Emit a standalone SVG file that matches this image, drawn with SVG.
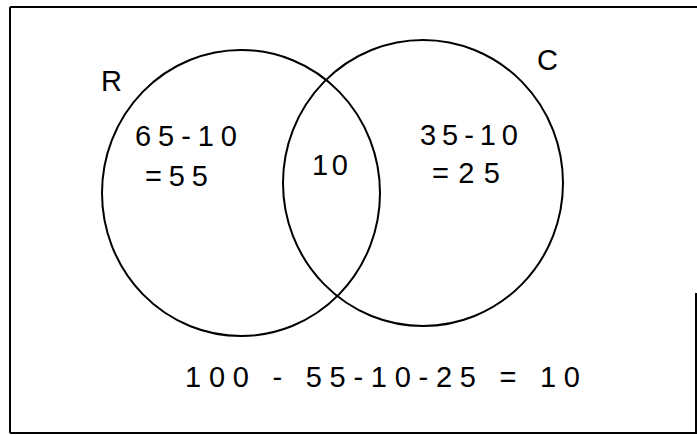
<svg xmlns="http://www.w3.org/2000/svg" width="697" height="435" viewBox="0 0 697 435">
<style>
.line{fill:none;stroke:#000;stroke-width:2}
.t{font-family:"Liberation Sans","DejaVu Sans",sans-serif;font-size:29px;fill:#000}
</style>
<rect width="697" height="435" fill="#fff"/>
<g id="frame" class="line">
<path d="M10,7 H697 M10,7 V433 M10,433 H697 M696,293 V433"/>
</g>
<g id="setR">
<ellipse class="line" cx="241" cy="193" rx="139" ry="143"/>
<text class="t" x="101" y="91" font-size="32">R</text>
<text class="t" x="135" y="146" textLength="102" lengthAdjust="spacing">65-10</text>
<text class="t" x="145" y="186" textLength="63" lengthAdjust="spacing">=55</text>
</g>
<g id="setC">
<ellipse class="line" cx="423" cy="183" rx="140" ry="143"/>
<text class="t" x="537" y="70" font-size="31">C</text>
<text class="t" x="420" y="145" textLength="98" lengthAdjust="spacing">35-10</text>
<text class="t" x="432" y="183" textLength="68" lengthAdjust="spacing">=25</text>
</g>
<g id="intersection">
<text class="t" x="312" y="175" textLength="36" lengthAdjust="spacing">10</text>
</g>
<g id="equation">
<text class="t" x="185" y="387" textLength="395" lengthAdjust="spacing">100 - 55-10-25  = 10</text>
</g>
<g id="connectors"/>
</svg>
